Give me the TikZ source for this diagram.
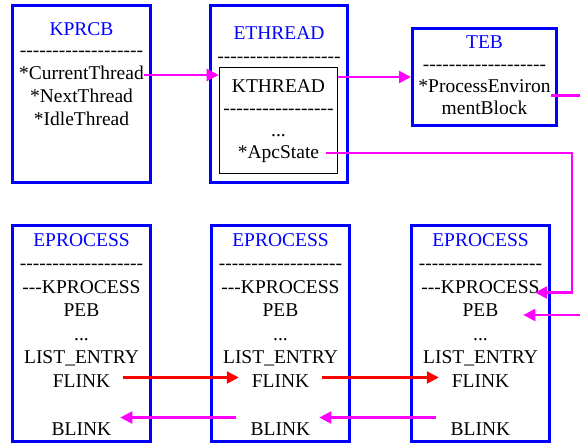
\documentclass[tikz,border=0pt]{standalone}
\usepackage{fontspec}
\setmainfont{Liberation Serif}[Ligatures=TeXOff]
\usetikzlibrary{positioning}
\usetikzlibrary{arrows.meta}
\definecolor{ptrmag}{RGB}{255,0,255}
\definecolor{ptrred}{RGB}{255,0,0}
\definecolor{boxblue}{RGB}{0,0,255}

\begin{document}
\begin{tikzpicture}[
		x=1pt,
		y=-1pt,
		font=\fontsize{19.5}{23}\selectfont,
		blk/.style={
			rectangle,
			draw=boxblue,
			line width=3pt,
			inner sep=0,
			minimum width=138pt
		},
		fld/.style={
			inner sep=0,
			outer sep=0,
			text height=16pt,
			text depth=7pt
		},
		ttl/.style={
			fld,
			text=boxblue
		},
		ptr/.style={
			line width=2.2pt,
			-{Triangle[length=12pt, width=12pt]}
		}
	]
		\useasboundingbox (0,0) rectangle (580,445);
		\clip (0,0) rectangle (580,445);
		
		\node[blk, minimum height=177pt] (kprcb) at (81.5,94) {};
		\node[blk, minimum width=137pt, minimum height=177pt] (ethread) at (279,94) {};
		\node[blk, draw=black, line width=1.6pt, minimum width=118pt, minimum height=106pt] (kthr) at (278.5,120.5) {};
		\node[blk, minimum width=144pt, minimum height=97pt] (teb) at (484.5,77) {};
		\node[blk, minimum height=216pt] (ep1) at (81.5,333.5) {};
		\node[blk, minimum height=216pt] (ep2) at (280.5,333.5) {};
		\node[blk, minimum height=216pt] (ep3) at (480.5,333.5) {};
		
		\node[ttl, below=15pt of kprcb.north] (kprcbT) {KPRCB};
		\node[fld, below=-1.5pt of kprcbT] (kprcbD) {-------------------};
		\node[fld, below=0pt of kprcbD] (cur) {*CurrentThread};
		\node[fld, below=0pt of cur] (nxt) {*NextThread};
		\node[fld, below=0pt of nxt] (idle) {*IdleThread};
		
		\node[ttl, below=19pt of ethread.north] (ethreadT) {ETHREAD};
		\node[fld, below=0pt of ethreadT] (ethreadD) {-------------------};
		
		\node[fld, below=10pt of kthr.north] (kthrT) {KTHREAD};
		\node[fld, below=-1pt of kthrT] (kthrD) {-----------------};
		\node[fld, below=-1pt of kthrD] (kthrE) {...};
		\node[fld, below=-1pt of kthrE] (apc) {*ApcState};
		
		\node[ttl, below=5pt of teb.north] (tebT) {TEB};
		\node[fld, below=-1pt of tebT] (tebD) {-------------------};
		\node[fld, below=-1pt of tebD] (pe) {*ProcessEnviron};
		\node[fld, below=-1pt of pe] (peM) {mentBlock};
		
		\node[ttl, below=6pt of ep1.north] (ep1T) {EPROCESS};
		\node[fld, below=0.5pt of ep1T] (ep1D) {-------------------};
		\node[fld, below=0.5pt of ep1D] (kp1) {---KPROCESS};
		\node[fld, below=0.5pt of kp1] (peb1) {PEB};
		\node[fld, below=0.5pt of peb1] (ep1E) {...};
		\node[fld, below=0.5pt of ep1E] (le1) {LIST\_ENTRY};
		\node[fld, below=0.5pt of le1] (fl1) {FLINK};
		\node[fld, below=25pt of fl1] (bl1) {BLINK};
		
		\node[ttl, below=6pt of ep2.north] (ep2T) {EPROCESS};
		\node[fld, below=0.5pt of ep2T] (ep2D) {-------------------};
		\node[fld, below=0.5pt of ep2D] (kp2) {---KPROCESS};
		\node[fld, below=0.5pt of kp2] (peb2) {PEB};
		\node[fld, below=0.5pt of peb2] (ep2E) {...};
		\node[fld, below=0.5pt of ep2E] (le2) {LIST\_ENTRY};
		\node[fld, below=0.5pt of le2] (fl2) {FLINK};
		\node[fld, below=25pt of fl2] (bl2) {BLINK};
		
		\node[ttl, below=6pt of ep3.north] (ep3T) {EPROCESS};
		\node[fld, below=0.5pt of ep3T] (ep3D) {-------------------};
		\node[fld, below=0.5pt of ep3D] (kp3) {---KPROCESS};
		\node[fld, below=0.5pt of kp3] (peb3) {PEB};
		\node[fld, below=0.5pt of peb3] (ep3E) {...};
		\node[fld, below=0.5pt of ep3E] (le3) {LIST\_ENTRY};
		\node[fld, below=0.5pt of le3] (fl3) {FLINK};
		\node[fld, below=25pt of fl3] (bl3) {BLINK};
		
		\draw[ptr, ptrmag] (cur.east) -- (cur.east -| kthr.west);
		\draw[ptr, ptrmag] (teb.west -| kthr.east) -- (teb.west);
		\draw[ptr, ptrmag] ([yshift=-8pt]pe.east) -| ([shift={(90pt,-3pt)}]peb3.east) -- ([shift={(25pt,-3pt)}]peb3.east);
		\draw[ptr, ptrmag] ([shift={(7pt,1.5pt)}]apc.east) -| ([shift={(32.5pt,-4pt)}]kp3.east) -- ([shift={(-4.5pt,-4pt)}]kp3.east);
		\draw[ptr, ptrred] ([shift={(13pt,5pt)}]fl1.east) -- ([shift={(-13pt,5pt)}]fl2.west);
		\draw[ptr, ptrred] ([shift={(13pt,5pt)}]fl2.east) -- ([shift={(-13pt,5pt)}]fl3.west);
		\draw[ptr, ptrmag] ([shift={(-15pt,13pt)}]bl2.west) -- ([shift={(9pt,13pt)}]bl1.east);
		\draw[ptr, ptrmag] ([shift={(-15pt,13pt)}]bl3.west) -- ([shift={(9pt,13pt)}]bl2.east);
	\end{tikzpicture}
\end{document}
